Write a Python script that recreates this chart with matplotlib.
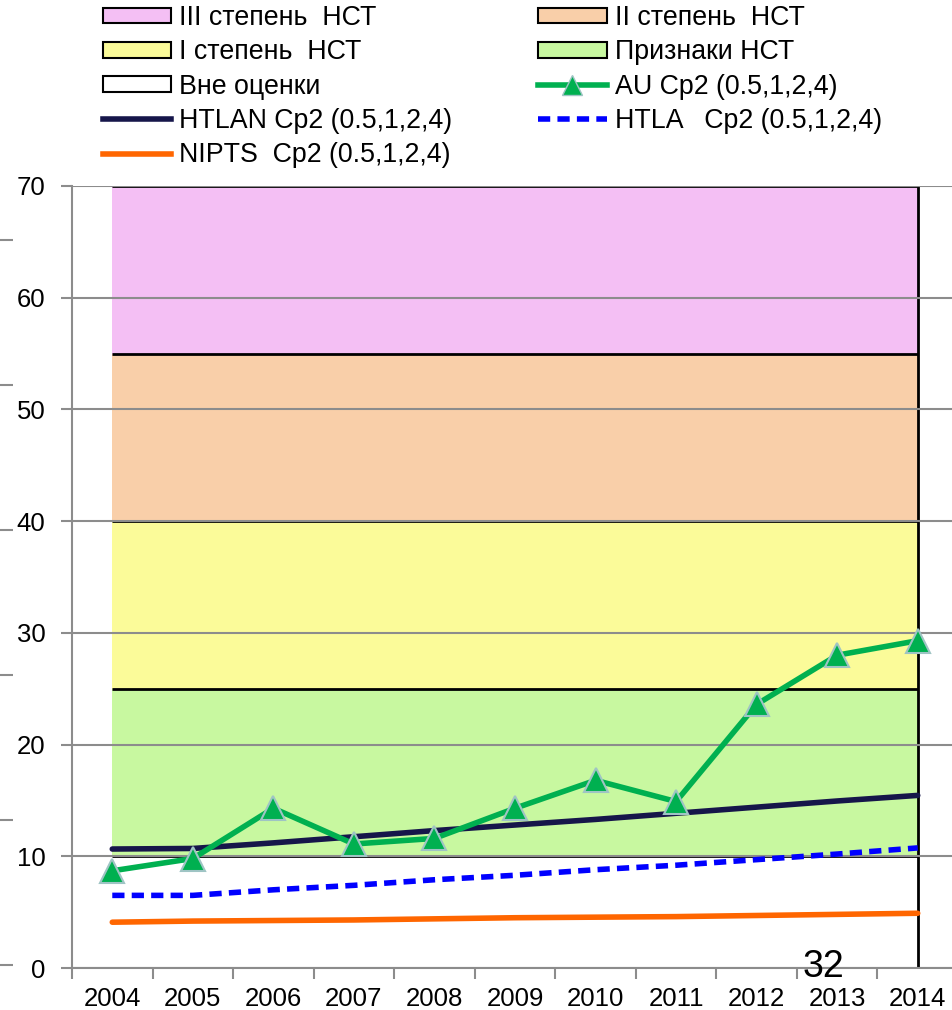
import matplotlib
matplotlib.use("Agg")
import matplotlib.pyplot as plt
from matplotlib.patches import Patch
from matplotlib.lines import Line2D
import numpy as np

plt.rcParams['font.family'] = ['Liberation Sans', 'DejaVu Sans']

# data
years = ['2004', '2005', '2006', '2007', '2008', '2009', '2010', '2011', '2012', '2013', '2014']
au = [8.7, 9.8, 14.3, 11.1, 11.6, 14.3, 16.8, 14.9, 23.6, 28.0, 29.3]
htlan = [10.65, 10.7, 11.2, 11.75, 12.3, 12.8, 13.3, 13.85, 14.4, 14.95, 15.45]
htla = [6.5, 6.5, 7.0, 7.4, 7.9, 8.3, 8.8, 9.2, 9.7, 10.2, 10.75]
nipts = [4.1, 4.2, 4.25, 4.3, 4.4, 4.5, 4.55, 4.6, 4.7, 4.8, 4.9]

# stacked bands (bottom -> top)
band_names = ['Вне оценки', 'Признаки НСТ', 'I степень  НСТ', 'II степень  НСТ', 'III степень  НСТ']
band_heights = [10, 15, 15, 15, 15]
band_colors = ['#FFFFFF', '#C8F8A0', '#FBFB99', '#F9CFA9', '#F4BFF4']

W, H = 953, 1010
fig = plt.figure(figsize=(W / 100, H / 100), dpi=100)
ax = fig.add_axes([72 / W, 42 / H, (958 - 72) / W, 782 / H])

x = np.arange(len(years))
bottom = np.zeros(len(years))
handles = {}
for name, h, c in zip(band_names, band_heights, band_colors):
    top = bottom + h
    ax.fill_between(x, bottom, top, color=c, lw=0, zorder=1)
    ax.plot(x, top, color='black', lw=2, zorder=2, solid_capstyle='butt')
    handles[name] = Patch(facecolor=c, edgecolor='black', lw=1.5)
    bottom = top
ax.vlines(x[-1], 0, bottom[-1], color='black', lw=2, zorder=2)

dash = (0, (2.2, 1.3))
ax.plot(x, nipts, color='#FF6600', lw=4, zorder=3, solid_capstyle='round')
ax.plot(x, htla, color='#0000FF', lw=4, ls=dash, zorder=3)
ax.plot(x, htlan, color='#16164A', lw=4, zorder=3, solid_capstyle='round')
ax.plot(x, au, color='#00B050', lw=4, marker='^', ms=17, mfc='#00B050',
        mec='#9FC4C4', mew=1.5, zorder=4)

ax.set_xlim(-0.5, len(years) - 0.5)
ax.set_ylim(0, 70)
ax.set_yticks(np.arange(0, 71, 10))
ax.yaxis.grid(True, color='#8C8C8C', lw=1.5)
ax.set_axisbelow(False)
for line in ax.get_ygridlines():
    line.set_zorder(1.5)

ax.set_xticks(np.arange(-0.5, len(years), 1))
ax.set_xticklabels([])
ax.set_xticks(x, minor=True)
ax.set_xticklabels(years, minor=True)
ax.tick_params(axis='x', which='major', length=8, width=1.5, color='#8C8C8C')
ax.tick_params(axis='x', which='minor', length=0, pad=14, labelsize=18.5)
ax.tick_params(axis='y', length=8, width=1.5, color='#8C8C8C', pad=11, labelsize=18.5)

for s in ['top', 'right']:
    ax.spines[s].set_visible(False)
for s in ['left', 'bottom']:
    ax.spines[s].set_color('#8C8C8C')
    ax.spines[s].set_linewidth(1.5)

# legend
h_au = Line2D([], [], color='#00B050', lw=4, marker='^', ms=14, mfc='#00B050', mec='#9FC4C4')
h_htlan = Line2D([], [], color='#16164A', lw=4)
h_htla = Line2D([], [], color='#0000FF', lw=4, ls=dash)
h_nipts = Line2D([], [], color='#FF6600', lw=4)
leg_handles = [handles['III степень  НСТ'], handles['I степень  НСТ'], handles['Вне оценки'], h_htlan, h_nipts,
               handles['II степень  НСТ'], handles['Признаки НСТ'], h_au, h_htla]
leg_labels = ['III степень  НСТ', 'I степень  НСТ', 'Вне оценки', 'HTLAN Ср2 (0.5,1,2,4)', 'NIPTS  Ср2 (0.5,1,2,4)',
              'II степень  НСТ', 'Признаки НСТ', 'AU Ср2 (0.5,1,2,4)', 'HTLA   Ср2 (0.5,1,2,4)']
fig.legend(leg_handles, leg_labels, ncol=2, loc='upper left', bbox_to_anchor=(103 / W, 1 - 5 / H),
           frameon=False, fontsize=19.3, borderpad=0, borderaxespad=0, handlelength=2.55,
           handleheight=0.53, handletextpad=0.3, labelspacing=0.31, columnspacing=3.2)

# stray tick marks of a clipped axis at the far left
axl = fig.add_axes([13 / W, (H - 965) / H, 0.0001, 725 / H])
axl.set_ylim(0, 5)
axl.set_yticks(np.arange(0, 6))
axl.set_yticklabels([])
axl.set_xticks([])
axl.tick_params(axis='y', length=9.4, width=1.5, color='#8C8C8C')
for s in axl.spines.values():
    s.set_visible(False)

fig.text(823 / W, (H - 977) / H, '32', fontsize=27, ha='center', va='baseline')

fig.savefig('out.png', dpi=100)
